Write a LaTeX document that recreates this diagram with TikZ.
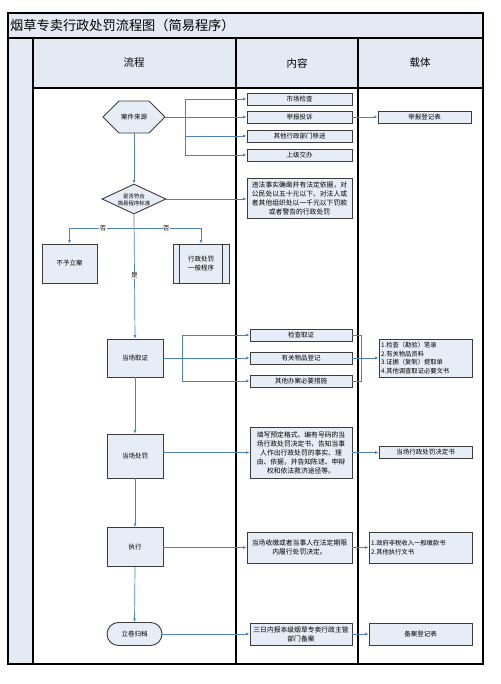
\documentclass[tikz,border=0pt]{standalone}
\usepackage{fontspec}
\setmainfont{Noto Sans CJK SC}
\usetikzlibrary{arrows.meta,shapes.geometric,shapes.misc}
\definecolor{lane}{HTML}{E3EAF4}
\definecolor{bfill}{HTML}{E6EDF7}
\definecolor{bdraw}{HTML}{3C3C3C}
\definecolor{link}{HTML}{4F81BD}
\begin{document}
\begin{tikzpicture}[x=1pt,y=-1pt,
  frame/.style={draw=black,line width=1.2pt},
  box/.style={draw=bdraw,fill=bfill,line width=0.9pt,inner sep=0pt,align=center,font=\fontsize{6.5}{8.5}\selectfont},
  para/.style={box,font=\fontsize{6.8}{9}\selectfont},
  lpara/.style={box,align=left,font=\fontsize{6.3}{8.6}\selectfont},
  hexa/.style={box,chamfered rectangle,chamfered rectangle xsep=11pt,chamfered rectangle ysep=15pt},
  dia/.style={box,diamond},
  term/.style={box,rounded rectangle},
  conn/.style={draw=link,line width=0.7pt},
  arr/.style={conn,-{Latex[length=3.5pt,width=3pt]}},
  yn/.style={fill=white,inner sep=0.5pt,font=\fontsize{6.3}{7}\selectfont},
  head/.style={font=\fontsize{10.5}{12}\selectfont}
]
\useasboundingbox (0,0) rectangle (500,684);
\fill[white] (0,0) rectangle (500,684);
% backgrounds
\fill[lane] (8,13) rectangle (483,38);
\fill[lane] (33,38) rectangle (483,88);
\fill[lane] (8,38) rectangle (33,664);
% frame
\draw[frame] (8,13) rectangle (483,664);
\draw[frame] (8,38) -- (483,38);
\draw[frame] (33,88) -- (483,88);
\draw[frame] (33,38) -- (33,664);
\draw[frame] (236,38) -- (236,664);
\draw[frame] (358,38) -- (358,664);
% title and headers
\node[anchor=west,font=\fontsize{13.2}{15}\selectfont,inner sep=0pt] (title) at (10,25.5) {烟草专卖行政处罚流程图（简易程序）};
\node[head] (h1) at (134,63) {流程};
\node[head] (h2) at (297,63) {内容};
\node[head] (h3) at (420,63) {载体};

% row 1
\node[hexa,minimum width=62pt,minimum height=30pt] (src) at (134,117) {案件来源};
\node[box,minimum width=105pt,minimum height=12pt] (c1) at (299.5,99) {市场检查};
\node[box,minimum width=105pt,minimum height=12pt] (c2) at (299.5,117) {举报投诉};
\node[box,minimum width=105pt,minimum height=12pt] (c3) at (299.5,136) {其他行政部门移送};
\node[box,minimum width=105pt,minimum height=12pt] (c4) at (299.5,155) {上级交办};
\node[box,minimum width=93pt,minimum height=12pt] (reg) at (424.5,117) {举报登记表};

% decision
\node[dia,minimum width=64pt,minimum height=30pt] (dec) at (134,199) {};
\node[font=\fontsize{5.4}{7}\selectfont,align=center,inner sep=0pt] (dect) at (134,199.5) {是否符合\\简易程序标准};
\node[para,minimum width=105pt,minimum height=40pt] (cond) at (299.5,198) {违法事实确凿并有法定依据，对\\公民处以五十元以下、对法人或\\者其他组织处以一千元以下罚款\\或者警告的行政处罚};
\node[box,minimum width=55pt,minimum height=39pt] (rej) at (69.5,263.5) {不予立案};
\node[box,minimum width=56pt,minimum height=39pt] (gen) at (201,263.5) {行政处罚\\一般程序};
\draw[draw=bdraw,line width=0.9pt] ([xshift=7pt]gen.north west) -- ([xshift=7pt]gen.south west);
\draw[draw=bdraw,line width=0.9pt] ([xshift=-7pt]gen.north east) -- ([xshift=-7pt]gen.south east);

% on-site evidence
\node[box,minimum width=56pt,minimum height=38pt] (take) at (135,358) {当场取证};
\node[box,minimum width=102pt,minimum height=12pt] (e1) at (301,335) {检查取证};
\node[box,minimum width=102pt,minimum height=12pt] (e2) at (301,358) {有关物品登记};
\node[box,minimum width=102pt,minimum height=12pt] (e3) at (301,381) {其他办案必要措施};
\node[lpara,minimum width=93pt,minimum height=38pt,text width=89pt] (fcar) at (425.5,358) {1.检查（勘验）笔录\\2.有关物品资料\\3.证据（复制）提取单\\4.其他调查取证必要文书};

% on-site penalty
\node[box,minimum width=56pt,minimum height=44pt] (pun) at (135,456) {当场处罚};
\node[para,minimum width=102pt,minimum height=51pt] (pc) at (301,452.5) {填写预定格式、编有号码的当\\场行政处罚决定书，告知当事\\人作出行政处罚的事实、理\\由、依据，并告知陈述、申辩\\权和依法救济途径等。};
\node[box,minimum width=93pt,minimum height=12pt] (pcar) at (425.5,452.5) {当场行政处罚决定书};

% execution
\node[box,minimum width=56pt,minimum height=39pt] (exe) at (135,547) {执行};
\node[para,minimum width=105pt,minimum height=31pt] (ec) at (299.5,547.5) {当场收缴或者当事人在法定期限\\内履行处罚决定。};
\node[lpara,minimum width=103pt,minimum height=31pt,text width=99pt] (ecar) at (420.5,547.5) {1.政府非税收入一般缴款书\\2.其他执行文书};

% archive
\node[term,minimum width=55pt,minimum height=23pt] (arc) at (134.5,634) {立卷归档};
\node[para,minimum width=102pt,minimum height=22pt] (ac) at (301,634) {三日内报本级烟草专卖行政主管\\部门备案};
\node[box,minimum width=103pt,minimum height=22pt] (acar) at (420.5,634) {备案登记表};

% connectors
\coordinate (j1) at (185,117);
\draw[conn] (src.east) -- (j1);
\draw[arr] (j1) |- (c1.west);
\draw[arr] (j1) -- (c2.west);
\draw[arr] (j1) |- (c3.west);
\draw[arr] (j1) |- (c4.west);
\draw[arr] (c2.east) -- (reg.west);
\draw[arr] (src.south) -- (dec.north);
\draw[arr] (dec.east) -- (dec.east -| cond.west);
\coordinate (j2) at (134,228);
\draw[arr] (j2) -| node[yn,pos=0.24]{否} (rej.north);
\draw[arr] (j2) -| node[yn,pos=0.24]{否} (gen.north);
\draw[arr] (dec.south) -- node[yn,pos=0.49]{是} (take.north);

\coordinate (j3) at (182,358);
\draw[conn] (take.east) -- (j3);
\draw[arr] (j3) |- (e1.west);
\draw[arr] (j3) -- (e2.west);
\draw[arr] (j3) |- (e3.west);
\coordinate (j4) at (361,358);
\draw[conn] (e1.east) -| (j4);
\draw[conn] (e3.east) -| (j4);
\draw[conn] (e2.east) -- (j4);
\draw[arr] (j4) -- (fcar.west);

\draw[arr] (take.south) -- (pun.north);
\draw[arr] (pun.east |- pc.west) -- (pc.west);
\draw[arr] (pc.east |- pcar.west) -- (pcar.west);

\draw[arr] (pun.south) -- (exe.north);
\draw[arr] (exe.east |- ec.west) -- (ec.west);
\draw[arr] (ec.east) -- (ecar.west);

\draw[arr] (exe.south) -- (arc.north);
\draw[arr] (arc.east) -- (ac.west);
\draw[arr] (ac.east) -- (acar.west);
\end{tikzpicture}
\end{document}
